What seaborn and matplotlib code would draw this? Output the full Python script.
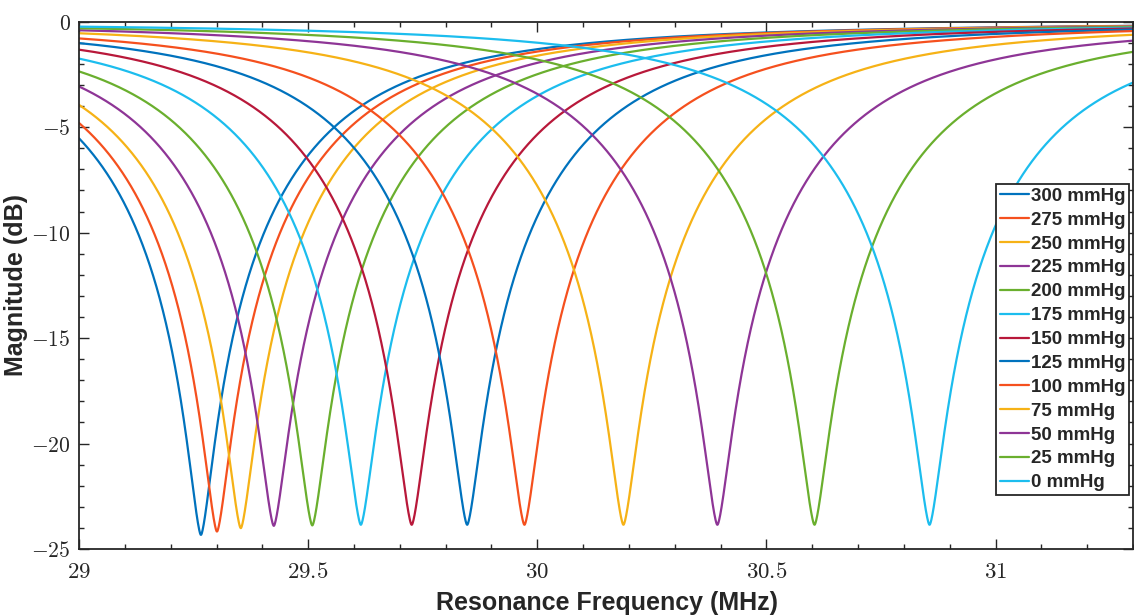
import numpy as np
import pandas as pd
import matplotlib
matplotlib.use("Agg")
import matplotlib.pyplot as plt
import seaborn as sns
from matplotlib.ticker import MultipleLocator, FuncFormatter

# ---- data ----
pressures = [300, 275, 250, 225, 200, 175, 150, 125, 100, 75, 50, 25, 0]        # mmHg
labels = [f"{p} mmHg" for p in pressures]
res_freq = [29.266, 29.301, 29.353, 29.425, 29.509, 29.615, 29.726,
            29.847, 29.972, 30.188, 30.393, 30.605, 30.856]                   # MHz
min_db = [-24.33, -24.17, -24.01, -23.90, -23.88, -23.85, -23.85,
          -23.85, -23.85, -23.85, -23.85, -23.85, -23.85]                     # dB
colors = ["#0072BD", "#F5501E", "#F6B216", "#8E3596", "#6AAF2E", "#1CBDEE",
          "#B8183A", "#0072BD", "#F5501E", "#F6B216", "#8E3596", "#6AAF2E", "#1CBDEE"]
x_ticks = [29, 29.5, 30, 30.5, 31]
y_ticks = [0, -5, -10, -15, -20, -25]

# resonance shape parameters (shared by all curves)
A_quad, B_lin, EPS = 5.2, 0.06, 0.002

freq = np.linspace(29.0, 31.3, 4000)
rows = []
for lab, f0, mdb in zip(labels, res_freq, min_db):
    d = freq - f0
    u = A_quad * d**2 + B_lin * (np.sqrt(d**2 + EPS**2) - EPS)
    m = 10 ** (mdb / 10)
    lin = m + (1 - m) * u / (1 + u)
    rows.append(pd.DataFrame({"freq": freq, "mag": 10 * np.log10(lin), "p": lab}))
df = pd.concat(rows, ignore_index=True)

sns.set_theme(style="white")
plt.rcParams["font.family"] = ["Liberation Sans", "DejaVu Sans"]
plt.rcParams["mathtext.fontset"] = "cm"

fig = plt.figure(figsize=(11.34, 6.15), dpi=100)
ax = fig.add_axes([0.0697, 0.1073, 0.9294, 0.8574])

sns.lineplot(data=df, x="freq", y="mag", hue="p", hue_order=labels,
             palette=colors, estimator=None, sort=False, linewidth=1.6, ax=ax)

ax.set_xlim(29.0, 31.3)
ax.set_ylim(-25, 0)
ax.set_xticks(x_ticks)
ax.set_yticks(y_ticks)
ax.xaxis.set_minor_locator(MultipleLocator(0.1))
ax.yaxis.set_minor_locator(MultipleLocator(1))
fmt = FuncFormatter(lambda v, pos: f"${v:g}$")
ax.xaxis.set_major_formatter(fmt)
ax.yaxis.set_major_formatter(fmt)
ax.tick_params(which="both", direction="in", top=True, right=True,
               bottom=True, left=True, color="#262626", width=1.0,
               labelcolor="#262626")
ax.tick_params(axis="x", labelsize=16.5)
ax.tick_params(axis="y", labelsize=15.5)
ax.tick_params(which="major", length=7.5)
ax.tick_params(axis="x", which="major", pad=8)
ax.tick_params(axis="y", which="major", pad=6)
ax.tick_params(which="minor", length=3.8)
for s in ax.spines.values():
    s.set_visible(True)
    s.set_color("#262626")
    s.set_linewidth(1.3)

ax.set_xlabel("Resonance Frequency (MHz)", fontsize=18, fontweight="bold",
              color="#262626")
ax.set_ylabel("Magnitude (dB)", fontsize=18, fontweight="bold",
              color="#262626")
ax.xaxis.set_label_coords(0.501, -0.08)
ax.yaxis.set_label_coords(-0.048, 0.5)

leg = ax.legend(loc="upper right", bbox_to_anchor=(0.9962, 0.6916),
                borderaxespad=0, frameon=True, fancybox=False,
                prop={"weight": "bold", "size": 13.5}, handlelength=1.55,
                handletextpad=0.12, labelspacing=0.36, borderpad=0.18,
                title=None)
leg.get_frame().set_edgecolor("#262626")
leg.get_frame().set_linewidth(1.3)
leg.get_frame().set_alpha(1)
for line in leg.get_lines():
    line.set_linewidth(1.6)

fig.savefig("out.png", dpi=100)
